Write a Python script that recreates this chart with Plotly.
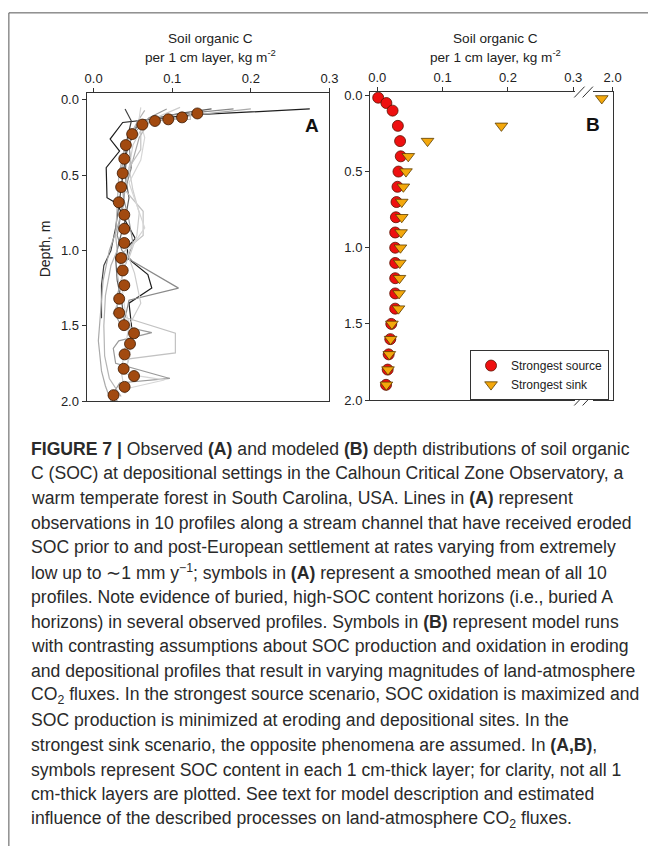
import plotly.graph_objects as go

W, H = 657, 854

# ---------------- Panel A data ----------------
# mean (smoothed) profile, symbols
mean_depth = [0.090, 0.116, 0.129, 0.140, 0.164, 0.227, 0.300, 0.391, 0.487, 0.579, 0.680, 0.763,
              0.856, 0.950, 1.050, 1.133, 1.231, 1.321, 1.415, 1.496, 1.550, 1.620, 1.690, 1.786,
              1.834, 1.906, 1.961]
mean_soc = [0.132, 0.1125, 0.095, 0.078, 0.062, 0.049, 0.041, 0.039, 0.037, 0.035, 0.032, 0.039,
            0.039, 0.039, 0.035, 0.037, 0.039, 0.0325, 0.0325, 0.0386, 0.0514, 0.0463, 0.0394, 0.0382,
            0.0514, 0.0394, 0.0253]

# 10 observed profiles (lines)
p1_d = [0.06, 0.10, 0.15, 0.26, 0.34, 0.45, 0.65, 0.69, 0.80, 0.92, 0.98, 1.05, 1.16, 1.25, 1.35, 1.54]
p1_x = [0.275, 0.125, 0.037, 0.021, 0.033, 0.016, 0.017, 0.030, 0.040, 0.053, 0.043, 0.043, 0.069, 0.074, 0.045, 0.049]
p2_d = [0.06, 0.14, 0.25, 0.40, 0.55, 0.70, 0.85, 1.00, 1.10, 1.23, 1.45]
p2_x = [0.040, 0.048, 0.043, 0.040, 0.036, 0.032, 0.028, 0.022, 0.013, 0.010, 0.010]
p3_d = [0.06, 0.09, 0.14, 0.22, 0.35, 0.50, 0.65, 0.80, 0.95, 1.05, 1.20, 1.35, 1.50]
p3_x = [0.150, 0.110, 0.060, 0.050, 0.042, 0.040, 0.045, 0.040, 0.032, 0.028, 0.030, 0.036, 0.040]
p4_d = [0.06, 0.10, 0.16, 0.30, 0.45, 0.60, 0.75, 0.90, 1.00, 1.07, 1.25, 1.33, 1.45]
p4_x = [0.178, 0.100, 0.055, 0.045, 0.048, 0.040, 0.035, 0.030, 0.036, 0.049, 0.108, 0.045, 0.040]
p5_d = [0.06, 0.12, 0.20, 0.35, 0.50, 0.65, 0.80, 0.95, 1.10, 1.30, 1.45, 1.50, 1.546, 1.60, 1.65,
        1.75, 1.85, 1.88, 1.95, 2.0]
p5_x = [0.093, 0.070, 0.055, 0.038, 0.035, 0.038, 0.045, 0.050, 0.040, 0.030, 0.030, 0.035, 0.074, 0.032,
        0.025, 0.028, 0.097, 0.033, 0.025, 0.030]
p6_d = [0.06, 0.10, 0.15, 0.25, 0.40, 0.55, 0.70, 0.85, 1.00, 1.20, 1.40, 1.60, 1.80, 1.90, 2.0]
p6_x = [0.200, 0.130, 0.070, 0.058, 0.050, 0.040, 0.038, 0.030, 0.020, 0.012, 0.009, 0.006, 0.010, 0.015, 0.022]
p7_d = [0.08, 0.13, 0.13, 0.20, 0.33, 0.45, 0.60, 0.74, 0.90, 1.00, 1.15, 1.30, 1.42, 1.55, 1.68, 1.72, 1.80]
p7_x = [0.123, 0.123, 0.075, 0.060, 0.060, 0.045, 0.040, 0.063, 0.063, 0.040, 0.030, 0.035, 0.025, 0.104,
        0.104, 0.045, 0.040]
p8_d = [0.05, 0.15, 0.30, 0.45, 0.60, 0.75, 0.90, 1.05, 1.15, 1.35, 1.50, 1.65, 1.80, 1.95]
p8_x = [0.110, 0.065, 0.050, 0.045, 0.050, 0.058, 0.055, 0.045, 0.052, 0.060, 0.045, 0.040, 0.035, 0.040]
p9_d = [0.07, 0.15, 0.30, 0.50, 0.70, 0.90, 1.00, 1.10, 1.30, 1.50, 1.70, 1.85, 1.97]
p9_x = [0.065, 0.055, 0.040, 0.032, 0.030, 0.028, 0.030, 0.022, 0.015, 0.013, 0.014, 0.020, 0.035]
p10_d = [0.05, 0.12, 0.25, 0.40, 0.55, 0.70, 0.85, 1.00, 1.20, 1.40, 1.55, 1.70, 1.82, 1.86, 1.92]
p10_x = [0.060, 0.058, 0.065, 0.060, 0.045, 0.055, 0.065, 0.045, 0.035, 0.040, 0.050, 0.045, 0.040, 0.090, 0.040]

profiles = [(p1_x, p1_d), (p2_x, p2_d), (p3_x, p3_d), (p4_x, p4_d), (p5_x, p5_d),
            (p6_x, p6_d), (p7_x, p7_d), (p8_x, p8_d), (p9_x, p9_d), (p10_x, p10_d)]
profile_colors = ["#1e1e1e", "#444444", "#606060", "#8a8a8a", "#9a9a9a",
                  "#aaaaaa", "#c2c2c2", "#cdcdcd", "#b5b5b5", "#d6d6d6"]

# ---------------- Panel B data ----------------
source_depth = [0.015, 0.05, 0.10, 0.2, 0.3, 0.4, 0.5, 0.6, 0.7, 0.8, 0.9, 1.0, 1.1, 1.2, 1.3, 1.4,
                1.5, 1.6, 1.7, 1.8, 1.9]
source_soc = [0.0015, 0.014, 0.0235, 0.0316, 0.035, 0.036, 0.0325, 0.031, 0.0295, 0.0286, 0.0275, 0.0275,
              0.0275, 0.0275, 0.0275, 0.0275, 0.0215, 0.020, 0.0175, 0.016, 0.0135]
sink_depth = [0.2, 0.3, 0.4, 0.5, 0.6, 0.7, 0.8, 0.9, 1.0, 1.1, 1.2, 1.3, 1.4, 1.5, 1.6, 1.7, 1.8, 1.9]
sink_soc = [0.19, 0.077, 0.0475, 0.044, 0.040, 0.0375, 0.0375, 0.0365, 0.0355, 0.0345, 0.034, 0.0335,
            0.0325, 0.0225, 0.0205, 0.0185, 0.0165, 0.014]
sink_top_depth = [0.02]
sink_top_soc = [1.89]   # on the broken (upper) part of the axis

depth_ticks = [0.0, 0.5, 1.0, 1.5, 2.0]
soc_ticks = [0.0, 0.1, 0.2, 0.3]
soc_ticks_break = [2.0]

# ---------------- geometry helpers (pixels -> paper) ----------------
def px(x):
    return x / W

def py(y):
    return 1 - y / H

FONT = "Arial, Liberation Sans, sans-serif"
AXC = "#333333"
TXT = "#222222"

fig = go.Figure()

# Panel A lines
for (xs, ds), c in zip(profiles, profile_colors):
    fig.add_trace(go.Scatter(x=xs, y=ds, mode="lines", line=dict(color=c, width=1.2),
                             xaxis="x", yaxis="y", showlegend=False, hoverinfo="skip"))
# Panel A mean symbols
fig.add_trace(go.Scatter(x=mean_soc, y=mean_depth, mode="markers",
                         marker=dict(symbol="circle", size=11, color="#a24a10",
                                     line=dict(color="#3b1800", width=0.8)),
                         xaxis="x", yaxis="y", showlegend=False))

# Panel B
fig.add_trace(go.Scatter(x=source_soc, y=source_depth, mode="markers", name="Strongest source",
                         marker=dict(symbol="circle", size=11, color="#ee1010",
                                     line=dict(color="#5a1200", width=0.8)),
                         xaxis="x2", yaxis="y2"))
fig.add_trace(go.Scatter(x=sink_soc, y=sink_depth, mode="markers", name="Strongest sink",
                         marker=dict(symbol="triangle-down", size=11, color="#f4a80c",
                                     line=dict(color="#5a3c00", width=0.8)),
                         xaxis="x2", yaxis="y2"))
fig.add_trace(go.Scatter(x=sink_top_soc, y=sink_top_depth, mode="markers", showlegend=False,
                         marker=dict(symbol="triangle-down", size=11, color="#f4a80c",
                                     line=dict(color="#5a3c00", width=0.8)),
                         xaxis="x3", yaxis="y3"))

ax_common = dict(showgrid=False, zeroline=False, showline=True, linecolor=AXC, linewidth=1,
                 ticks="outside", ticklen=4, tickcolor=AXC, tickwidth=1,
                 tickfont=dict(family=FONT, size=13, color=TXT))

yA = [py(402.7), py(90.7)]
yB = [py(401.7), py(89.3)]

fig.update_layout(
    width=W, height=H, margin=dict(l=0, r=0, t=0, b=0),
    paper_bgcolor="white", plot_bgcolor="white",
    xaxis=dict(**ax_common, domain=[px(86), px(333)], range=[-0.009, 0.3], side="top",
               tickvals=soc_ticks, ticktext=[f"{v:.1f}" for v in soc_ticks], mirror=True, anchor="y"),
    yaxis=dict(**ax_common, domain=yA, range=[2.0, -0.043], tickvals=depth_ticks,
               ticktext=[f"{v:.1f}" for v in depth_ticks], mirror=True, anchor="x"),
    xaxis2=dict(**ax_common, domain=[px(374.3), px(583)], range=[-0.011, 0.303], side="top",
                tickvals=soc_ticks, ticktext=[f"{v:.1f}" for v in soc_ticks], mirror=True, anchor="y2"),
    yaxis2=dict(**ax_common, domain=yB, range=[2.0, -0.022], tickvals=depth_ticks,
                ticktext=[f"{v:.1f}" for v in depth_ticks], mirror=False, anchor="x2"),
    xaxis3=dict(**ax_common, domain=[px(601), px(621)], range=[1.8, 2.0], side="top",
                tickvals=soc_ticks_break, ticktext=[f"{v:.1f}" for v in soc_ticks_break],
                mirror=True, anchor="y3"),
    yaxis3=dict(showgrid=False, zeroline=False, showline=True, linecolor=AXC, linewidth=1,
                domain=yB, range=[2.0, -0.022], side="right", anchor="x3",
                showticklabels=False, ticks=""),
    legend=dict(x=px(476), y=py(351), xanchor="left", yanchor="top",
                bordercolor=AXC, borderwidth=1, bgcolor="white",
                font=dict(family=FONT, size=12, color=TXT), tracegroupgap=0),
    showlegend=True,
)

ann = []
# axis titles
for cx in (211.7, 501.7):
    ann.append(dict(text="Soil organic C", x=px(cx), y=py(35), xref="paper", yref="paper",
                    showarrow=False, xanchor="center", yanchor="middle",
                    font=dict(family=FONT, size=13.6, color=TXT)))
    ann.append(dict(text="per 1 cm layer, kg m<sup>-2</sup>", x=px(cx), y=py(53), xref="paper",
                    yref="paper", showarrow=False, xanchor="center", yanchor="middle",
                    font=dict(family=FONT, size=13.6, color=TXT)))
ann.append(dict(text="Depth, m", x=px(43.5), y=py(248), xref="paper", yref="paper", textangle=-90,
                showarrow=False, xanchor="center", yanchor="middle",
                font=dict(family=FONT, size=14, color=TXT)))
# panel labels
ann.append(dict(text="<b>A</b>", x=px(315), y=py(123), xref="paper", yref="paper", showarrow=False,
                xanchor="center", yanchor="middle", font=dict(family=FONT, size=19, color="#111")))
ann.append(dict(text="<b>B</b>", x=px(601), y=py(122), xref="paper", yref="paper", showarrow=False,
                xanchor="center", yanchor="middle", font=dict(family=FONT, size=19, color="#111")))

caption = [
    "<b>FIGURE 7 |</b> Observed <b>(A)</b> and modeled <b>(B)</b> depth distributions of soil organic",
    "C (SOC) at depositional settings in the Calhoun Critical Zone Observatory, a",
    "warm temperate forest in South Carolina, USA. Lines in <b>(A)</b> represent",
    "observations in 10 profiles along a stream channel that have received eroded",
    "SOC prior to and post-European settlement at rates varying from extremely",
    "low up to ∼1 mm y<sup>−1</sup>; symbols in <b>(A)</b> represent a smoothed mean of all 10",
    "profiles. Note evidence of buried, high-SOC content horizons (i.e., buried A",
    "horizons) in several observed profiles. Symbols in <b>(B)</b> represent model runs",
    "with contrasting assumptions about SOC production and oxidation in eroding",
    "and depositional profiles that result in varying magnitudes of land-atmosphere",
    "CO<sub>2</sub> fluxes. In the strongest source scenario, SOC oxidation is maximized and",
    "SOC production is minimized at eroding and depositional sites. In the",
    "strongest sink scenario, the opposite phenomena are assumed. In <b>(A,B)</b>,",
    "symbols represent SOC content in each 1 cm-thick layer; for clarity, not all 1",
    "cm-thick layers are plotted. See text for model description and estimated",
    "influence of the described processes on land-atmosphere CO<sub>2</sub> fluxes.",
]
CAP_FONT = "Arial, Liberation Sans, sans-serif"
for i, line in enumerate(caption):
    ann.append(dict(text=line, x=px(27), y=py(451 + i * 25.05), xref="paper", yref="paper",
                    showarrow=False, xanchor="left", yanchor="middle",
                    font=dict(family=CAP_FONT, size=17.6, color="#2a2a2a")))
fig.update_layout(annotations=ann)

shapes = []
# figure frame (top and left edges)
shapes.append(dict(type="line", xref="paper", yref="paper", x0=px(7), x1=1.0, y0=py(9), y1=py(9),
                   line=dict(color="#555555", width=1)))
shapes.append(dict(type="line", xref="paper", yref="paper", x0=px(7), x1=px(7), y0=py(9), y1=0,
                   line=dict(color="#555555", width=1)))
# axis break marks
for yb in (89.3, 401.7):
    for x0 in (582.0, 590.5):
        shapes.append(dict(type="line", xref="paper", yref="paper",
                           x0=px(x0), y0=py(yb + 5.5), x1=px(x0 + 10.5), y1=py(yb - 5.5),
                           line=dict(color=AXC, width=1)))
fig.update_layout(shapes=shapes)

fig.write_html("out.html", config={"displayModeBar": False},
               post_script="document.body.style.margin='0px';")
